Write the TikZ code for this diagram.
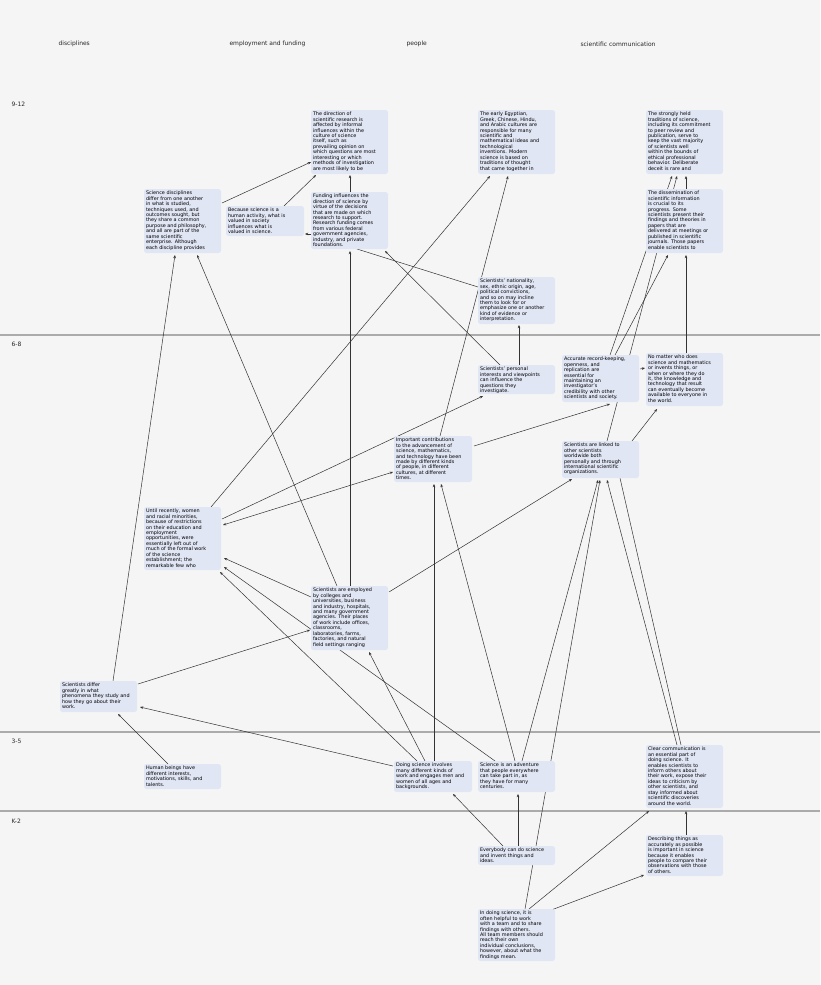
\documentclass[tikz,border=0pt]{standalone}
\usepackage{fontspec}
\setmainfont{DejaVu Sans}
\usetikzlibrary{calc,arrows.meta}
\pgfdeclarelayer{bgl}
\pgfdeclarelayer{edges}
\pgfsetlayers{bgl,edges,main}
\definecolor{bg}{HTML}{F5F5F5}
\definecolor{boxc}{HTML}{E1E6F5}
\definecolor{sep}{HTML}{ABABAB}
\tikzset{
  box/.style={fill=boxc,rounded corners=2.5pt,anchor=north west,inner sep=2pt,outer sep=0pt,font=\fontsize{4.9}{5.45}\selectfont},
  con/.style={draw=black!80,line width=0.5pt,-{Stealth[length=3.2pt,width=2.6pt]}},
  pl/.style={draw=black!80,line width=0.5pt},
  hdr/.style={anchor=west,font=\fontsize{6}{7}\selectfont,text=black!85},
  sepl/.style={draw=sep,line width=2.4pt}
}
\newcommand\bxx[6]{\node[box] (#1) at (#2,#3) {\parbox[t][\dimexpr#5pt-4pt\relax][t]{\dimexpr#4pt-4pt\relax}{\raggedright #6}};}
\begin{document}
\begin{tikzpicture}[x=1pt,y=-1pt]
\begin{pgfonlayer}{bgl}
\fill[bg] (0,0) rectangle (820,985);
\end{pgfonlayer}
\useasboundingbox (0,0) rectangle (820,985);
\node[hdr] (h1) at (55,44) {disciplines};
\node[hdr] (h2) at (226,44) {employment and funding};
\node[hdr] (h3) at (403,44) {people};
\node[hdr] (h4) at (577,44) {scientific communication};
\node[hdr] (g1) at (8,104) {9-12};
\node[hdr] (g2) at (8,344) {6-8};
\node[hdr] (g3) at (8,741) {3-5};
\node[hdr] (g4) at (8,821) {K-2};
\coordinate (s1a) at (0,335); \coordinate (s1b) at (820,335);
\coordinate (s2a) at (0,732); \coordinate (s2b) at (820,732);
\coordinate (s3a) at (0,811); \coordinate (s3b) at (820,811);
\begin{pgfonlayer}{bgl}
\draw[sepl] (s1a) -- (s1b);
\draw[sepl] (s2a) -- (s2b);
\draw[sepl] (s3a) -- (s3b);
\end{pgfonlayer}

\bxx{dir}{311}{110}{77}{64}{The direction of\\ scientific research is\\ affected by informal\\ influences within the\\ culture of science\\ itself, such as\\ prevailing opinion on\\ which questions are most\\ interesting or which\\ methods of investigation\\ are most likely to be}
\bxx{egypt}{478}{110}{77}{64}{The early Egyptian,\\ Greek, Chinese, Hindu,\\ and Arabic cultures are\\ responsible for many\\ scientific and\\ mathematical ideas and\\ technological\\ inventions. Modern\\ science is based on\\ traditions of thought\\ that came together in}
\bxx{strong}{646}{110}{77}{64}{The strongly held\\ traditions of science,\\ including its commitment\\ to peer review and\\ publication, serve to\\ keep the vast majority\\ of scientists well\\ within the bounds of\\ ethical professional\\ behavior. Deliberate\\ deceit is rare and}
\bxx{scidisc}{144}{189}{77}{64}{Science disciplines\\ differ from one another\\ in what is studied,\\ techniques used, and\\ outcomes sought, but\\ they share a common\\ purpose and philosophy,\\ and all are part of the\\ same scientific\\ enterprise. Although\\ each discipline provides}
\bxx{because}{226}{206}{78}{30}{Because science is a\\ human activity, what is\\ valued in society\\ influences what is\\ valued in science.}
\bxx{funding}{311}{192}{77}{57}{Funding influences the\\ direction of science by\\ virtue of the decisions\\ that are made on which\\ research to support.\\ Research funding comes\\ from various federal\\ government agencies,\\ industry, and private\\ foundations.}
\bxx{dissem}{646}{189}{77}{64}{The dissemination of\\ scientific information\\ is crucial to its\\ progress. Some\\ scientists present their\\ findings and theories in\\ papers that are\\ delivered at meetings or\\ published in scientific\\ journals. Those papers\\ enable scientists to}
\bxx{national}{478}{277}{77}{47}{Scientists' nationality,\\ sex, ethnic origin, age,\\ political convictions,\\ and so on may incline\\ them to look for or\\ emphasize one or another\\ kind of evidence or\\ interpretation.}
\bxx{personal}{478}{365}{77}{29}{Scientists' personal\\ interests and viewpoints\\ can influence the\\ questions they\\ investigate.}
\bxx{accurate}{562}{355}{77}{47}{Accurate record-keeping,\\ openness, and\\ replication are\\ essential for\\ maintaining an\\ investigator's\\ credibility with other\\ scientists and society.}
\bxx{nomatter}{646}{353}{77}{53}{No matter who does\\ science and mathematics\\ or invents things, or\\ when or where they do\\ it, the knowledge and\\ technology that result\\ can eventually become\\ available to everyone in\\ the world.}
\bxx{important}{394}{436}{78}{46}{Important contributions\\ to the advancement of\\ science, mathematics,\\ and technology have been\\ made by different kinds\\ of people, in different\\ cultures, at different\\ times.}
\bxx{linked}{562}{441}{77}{37}{Scientists are linked to\\ other scientists\\ worldwide both\\ personally and through\\ international scientific\\ organizations.}
\bxx{until}{144}{507}{77}{63}{Until recently, women\\ and racial minorities,\\ because of restrictions\\ on their education and\\ employment\\ opportunities, were\\ essentially left out of\\ much of the formal work\\ of the science\\ establishment; the\\ remarkable few who}
\bxx{employed}{311}{586}{77}{64}{Scientists are employed\\ by colleges and\\ universities, business\\ and industry, hospitals,\\ and many government\\ agencies. Their places\\ of work include offices,\\ classrooms,\\ laboratories, farms,\\ factories, and natural\\ field settings ranging}
\bxx{differ}{60}{681}{77}{31}{Scientists differ\\ greatly in what\\ phenomena they study and\\ how they go about their\\ work.}
\bxx{human}{144}{764}{77}{25}{Human beings have\\ different interests,\\ motivations, skills, and\\ talents.}
\bxx{doing}{394}{761}{78}{31}{Doing science involves\\ many different kinds of\\ work and engages men and\\ women of all ages and\\ backgrounds.}
\bxx{adventure}{478}{761}{77}{31}{Science is an adventure\\ that people everywhere\\ can take part in, as\\ they have for many\\ centuries.}
\bxx{clear}{646}{745}{77}{63}{Clear communication is\\ an essential part of\\ doing science. It\\ enables scientists to\\ inform others about\\ their work, expose their\\ ideas to criticism by\\ other scientists, and\\ stay informed about\\ scientific discoveries\\ around the world.}
\bxx{everybody}{478}{846}{77}{19}{Everybody can do science\\ and invent things and\\ ideas.}
\bxx{describing}{646}{835}{77}{41}{Describing things as\\ accurately as possible\\ is important in science\\ because it enables\\ people to compare their\\ observations with those\\ of others.}
\bxx{team}{478}{909}{77}{52}{In doing science, it is\\ often helpful to work\\ with a team and to share\\ findings with others.\\ All team members should\\ reach their own\\ individual conclusions,\\ however, about what the\\ findings mean.}

\begin{pgfonlayer}{edges}
\draw[con] ($(scidisc.north west)+(78,14)$) -- ($(dir.north west)+(0,52)$);
\draw[con] ($(because.north west)+(58,0)$) -- ($(dir.north west)+(5,65)$);
\draw[con] ($(funding.north west)+(39,0)$) -- ($(dir.north west)+(39,65)$);
\draw[con] ($(funding.north west)+(0,42)$) -- ($(because.north west)+(79,28)$);
\draw[pl] ($(funding.north west)+(46,57)$) -- ($(national.north west)+(0,10)$);
\draw[con] ($(personal.north west)+(22,0)$) -- ($(funding.north west)+(74,59)$);
\draw[con] ($(employed.north west)+(39,0)$) -- ($(funding.north west)+(39,59)$);
\draw[con] ($(until.north west)+(67,0)$) -- ($(egypt.north west)+(12,66)$);
\draw[con] ($(important.north west)+(46,0)$) -- ($(egypt.north west)+(30,66)$);
\draw[con] ($(personal.north west)+(41,0)$) -- ($(national.north west)+(41,48)$);
\draw[con] ($(until.north west)+(78,12)$) -- ($(personal.north west)+(5,31)$);
\draw[draw=black!80,line width=0.5pt,{Stealth[length=3.2pt,width=2.6pt]}-{Stealth[length=3.2pt,width=2.6pt]}] ($(until.north west)+(79,18)$) -- ($(important.north west)+(-1,36)$);
\draw[con] ($(important.north west)+(80,10)$) -- ($(accurate.north west)+(48,49)$);
\draw[con] ($(accurate.north west)+(48,0)$) -- ($(strong.north west)+(26,66)$);
\draw[con] ($(linked.north west)+(45,0)$) -- ($(strong.north west)+(31,66)$);
\draw[con] ($(accurate.north west)+(53,0)$) -- ($(dissem.north west)+(22,66)$);
\draw[con] ($(nomatter.north west)+(40,0)$) -- ($(dissem.north west)+(40,66)$);
\draw[con] ($(dissem.north west)+(40,0)$) -- ($(strong.north west)+(40,66)$);
\draw[con] ($(accurate.north west)+(78,14)$) -- ($(nomatter.north west)+(-1,15)$);
\draw[con] ($(linked.north west)+(70,0)$) -- ($(nomatter.north west)+(11,56)$);
\draw[con] ($(employed.north west)+(78,6)$) -- ($(linked.north west)+(10,38)$);
\draw[con] ($(differ.north west)+(78,3)$) -- ($(employed.north west)+(-1,44)$);
\draw[con] ($(differ.north west)+(53,0)$) -- ($(scidisc.north west)+(31,66)$);
\draw[con] ($(employed.north west)+(26,0)$) -- ($(scidisc.north west)+(53,66)$);
\draw[con] ($(employed.north west)+(0,11)$) -- ($(until.north west)+(80,51)$);
\draw[con] ($(adventure.north west)+(17,0)$) -- ($(until.north west)+(80,60)$);
\draw[con] ($(doing.north west)+(23,0)$) -- ($(until.north west)+(76,65)$);
\draw[con] ($(doing.north west)+(31,0)$) -- ($(employed.north west)+(58,66)$);
\draw[con] ($(doing.north west)+(40,0)$) -- ($(important.north west)+(40,48)$);
\draw[con] ($(adventure.north west)+(37,0)$) -- ($(important.north west)+(47,48)$);
\draw[con] ($(adventure.north west)+(44,0)$) -- ($(linked.north west)+(36,39)$);
\draw[con] ($(team.north west)+(47,0)$) -- ($(linked.north west)+(38,39)$);
\draw[con] ($(clear.north west)+(31,0)$) -- ($(linked.north west)+(45,39)$);
\draw[pl] ($(linked.north west)+(58,37)$) -- ($(clear.north west)+(35,0)$);
\draw[con] ($(everybody.north west)+(25,0)$) -- ($(doing.north west)+(59,33)$);
\draw[con] ($(everybody.north west)+(40,0)$) -- ($(adventure.north west)+(40,33)$);
\draw[con] ($(team.north west)+(51,0)$) -- ($(clear.north west)+(3,66)$);
\draw[con] ($(team.north west)+(60,6)$) -- ($(describing.north west)+(-2,40)$);
\draw[con] ($(describing.north west)+(40,0)$) -- ($(clear.north west)+(40,66)$);
\draw[con] ($(human.north west)+(24,0)$) -- ($(differ.north west)+(58,33)$);
\draw[con] ($(doing.north west)+(-1,5)$) -- ($(differ.north west)+(80,26)$);
\end{pgfonlayer}
\end{tikzpicture}
\end{document}
